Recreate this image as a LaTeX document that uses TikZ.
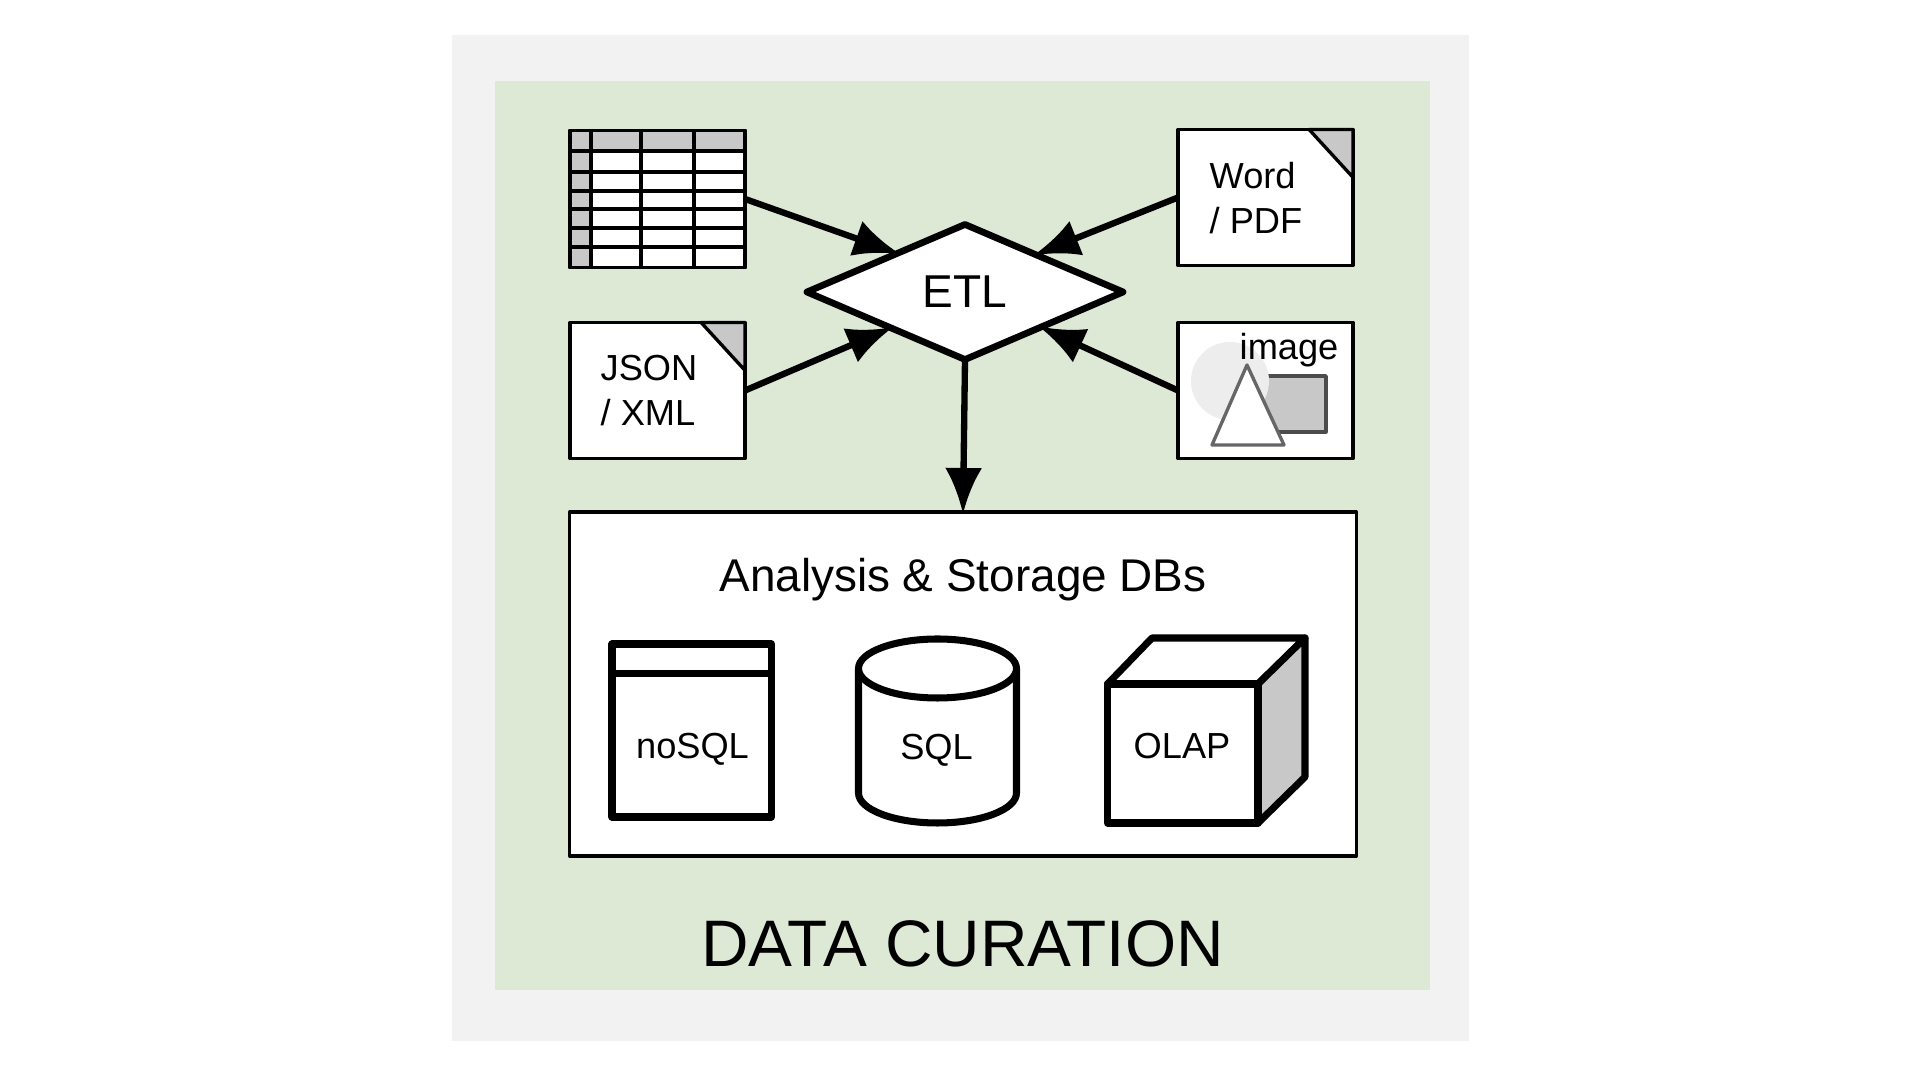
\documentclass[tikz,border=0pt]{standalone}
\usepackage{fontspec}
\setmainfont{Liberation Sans}
\usetikzlibrary{arrows.meta,shapes.geometric}
\definecolor{sheetgray}{HTML}{F2F2F2}
\definecolor{curegreen}{HTML}{DDE8D5}
\definecolor{foldgray}{HTML}{C8C8C8}
\begin{document}
\begin{tikzpicture}[x=0.01cm,y=-0.01cm,line join=round,>={Latex[length=4.6mm,width=3.7mm]}]
  \tikzstyle{docbox}=[draw,fill=white,rectangle,line width=0.95pt,inner sep=0,outer sep=0,minimum width=1.75cm,minimum height=1.36cm]
  \tikzstyle{dbbox}=[draw,fill=white,rectangle,line width=0.95pt,inner sep=0,outer sep=0,minimum width=7.86cm,minimum height=3.44cm]
  \tikzstyle{etlbox}=[draw,fill=white,diamond,line width=1.9pt,inner sep=0,outer sep=0,aspect=2.36,minimum width=3.16cm,minimum height=1.35cm,font=\fontsize{13.1}{15}\selectfont]
  \tikzstyle{flow}=[->,line width=1.8pt,shorten >=-0.6pt]
  \tikzstyle{icon}=[line width=2pt,fill=white]
  \tikzstyle{small}=[inner sep=0,font=\fontsize{10.3}{12.8}\selectfont]
  \def\fl{44}	% width of page fold
  \def\fh{48}	% height of page fold
  \useasboundingbox (0,0) rectangle (1920,1080);
  \fill[white] (0,0) rectangle (1920,1080);
  \fill[sheetgray] (452,35) rectangle (1469,1041);
  \fill[curegreen] (495,81) rectangle (1430,990);
  % sources
  \node[docbox,minimum height=1.37cm] (tbl) at (657.5,199) {};
  \fill[foldgray] (570,130) rectangle (745,151);
  \fill[foldgray] (570,130) rectangle (591,267);
  \foreach \y in {151,172,191,209,228,247}
    \draw[line width=0.95pt] (570,\y) -- (745,\y);
  \foreach \x in {591,641,694}
    \draw[line width=0.95pt] (\x,130) -- (\x,267);
  \draw[line width=0.95pt] (tbl.north west) rectangle (tbl.south east);
  \node[docbox] (word) at (1265.5,197.5) {};
  \draw[fill=foldgray,line width=0.95pt] (word.north east) ++(-\fl,0) -- (word.north east) -- ++(0,\fh) -- cycle;
  \node[docbox] (json) at (657.5,390.5) {};
  \draw[fill=foldgray,line width=0.95pt] (json.north east) ++(-\fl,0) -- (json.north east) -- ++(0,\fh) -- cycle;
  \node[docbox] (pic) at (1265.5,390.5) {};
  \draw[fill=foldgray,draw=black!70,line width=0.95pt] (1250,376) rectangle (1326,432);
  \fill[black!7] (1230,381) circle (39);
  \draw[fill=white,draw=black!60,line width=0.95pt] (1247,365) -- (1284,445) -- (1212,445) -- cycle;
  \node[small,anchor=base west,align=left] (wordtxt) at (1209,233.5) {Word\\/ PDF};
  \node[small,anchor=base west,align=left] (jsontxt) at (600,426) {JSON\\/ XML};
  \node[small,anchor=base west] (pictxt) at (1239,360) {image};
  % etl and databases
  \node[etlbox] (etl) at (965,292) {\raisebox{-1pt}{ETL}};
  \node[dbbox] (dbs) at (963,684) {};
  \node[inner sep=0,anchor=base,font=\fontsize{13.05}{16}\selectfont] (dbtxt) at (963,592) {Analysis \& Storage DBs};
  \draw[flow] (tbl.east) -- (etl.150);
  \draw[flow] (word.west) -- (etl.28);
  \draw[flow] (json.east) -- (etl.206);
  \draw[flow] (pic.west) -- (etl.335);
  \draw[flow] (etl.south) -- (dbs.north);
  % noSQL
  \draw[icon] (612,644) rectangle (771.5,817);
  \draw[line width=2pt] (612,673.5) -- (771.5,673.5);
  \node[small,anchor=base] (nosql) at (692.5,759) {noSQL};
  % SQL
  \draw[icon] (858.5,668.5) -- (858.5,793) arc[start angle=180,end angle=360,x radius=79,y radius=-30] -- (1016.5,668.5);
  \draw[icon] (937.5,668.5) ellipse[x radius=79,y radius=29.5];
  \node[small,anchor=base] (sql) at (936.5,760) {SQL};
  % OLAP
  \draw[icon] (1107.5,684) -- (1152,638) -- (1305,638) -- (1258,684) -- cycle;
  \draw[icon,fill=foldgray] (1258,684) -- (1305,638) -- (1305,777) -- (1258,823) -- cycle;
  \draw[icon] (1107.5,684) rectangle (1258,823);
  \node[small,anchor=base] (olap) at (1182,758.5) {OLAP};
  \node[inner sep=0,anchor=base,font=\fontsize{18.7}{22}\selectfont] (title) at (962.5,967) {DATA CURATION};
\end{tikzpicture}
\end{document}
